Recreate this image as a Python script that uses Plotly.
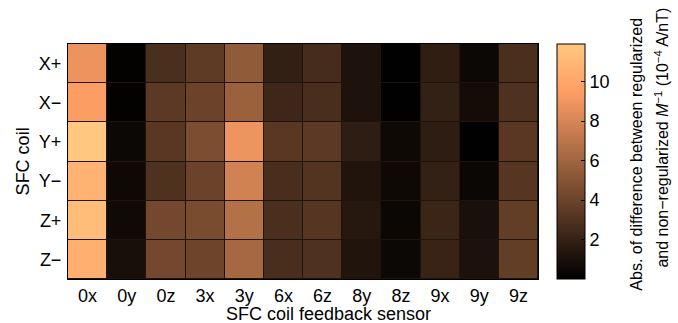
import plotly.graph_objects as go

# SFC coil feedback sensors (columns) and coils (rows)
sensors = ["0x", "0y", "0z", "3x", "3y", "6x", "6z", "8y", "8z", "9x", "9y", "9z"]
coils = ["X+", "X−", "Y+", "Y−", "Z+", "Z−"]

# |M^-1 regularized - M^-1 non-regularized|, units of 1e-4 A/nT
row_xp = [8.8, 0.10, 2.8, 3.5, 5.4, 1.9, 2.6, 1.1, 0.05, 1.8, 0.45, 2.8]
row_xm = [9.4, 0.10, 3.4, 4.0, 5.8, 2.3, 2.7, 1.1, 0.05, 1.95, 0.7, 2.9]
row_yp = [11.9, 0.45, 3.3, 4.6, 8.9, 3.3, 3.4, 1.7, 0.55, 1.7, 0.05, 3.3]
row_ym = [10.7, 0.55, 2.9, 4.0, 7.8, 2.7, 3.1, 1.2, 0.55, 1.95, 0.4, 3.2]
row_zp = [11.3, 0.6, 4.3, 4.5, 6.7, 2.8, 3.2, 1.4, 0.4, 2.2, 0.95, 3.7]
row_zm = [10.5, 0.9, 4.3, 4.1, 6.2, 2.7, 2.9, 1.2, 0.45, 2.1, 1.05, 3.7]
values = [row_xp, row_xm, row_yp, row_ym, row_zp, row_zm]

cbar_ticks = [2, 4, 6, 8, 10]

# Matlab-style "copper" colormap
def copper(t):
    r = min(1.0, 1.25 * t)
    g = 0.7812 * t
    b = 0.4975 * t
    return "rgb(%d,%d,%d)" % (round(r * 255), round(g * 255), round(b * 255))

steps = 20
copper_scale = [[i / steps, copper(i / steps)] for i in range(steps + 1)]

font = "Liberation Sans, Arial, Helvetica, sans-serif"
fs = 18

fig = go.Figure(
    go.Heatmap(
        z=values,
        x=sensors,
        y=coils,
        colorscale=copper_scale,
        zmin=0,
        zmax=11.9,
        xgap=1,
        ygap=1,
        colorbar=dict(
            x=1.0404,
            xanchor="left",
            xpad=0,
            y=0.5,
            yanchor="middle",
            ypad=0,
            len=1.0,
            lenmode="fraction",
            thickness=28,
            outlinecolor="black",
            outlinewidth=1,
            tickvals=cbar_ticks,
            ticks="inside",
            ticklen=4,
            tickcolor="black",
            tickfont=dict(size=fs, color="black", family=font),
        ),
    )
)

fig.update_layout(
    width=678,
    height=323,
    margin=dict(l=68, r=140, t=44, b=44),
    paper_bgcolor="white",
    plot_bgcolor="#1e140c",
    font=dict(family=font, size=fs, color="black"),
    xaxis=dict(
        automargin=False,
        showline=True, linecolor="black", linewidth=1, mirror=True,
        ticks="", showgrid=False, zeroline=False,
        ticklabelstandoff=0,
        tickfont=dict(size=fs),
    ),
    yaxis=dict(
        automargin=False,
        autorange="reversed",
        showline=True, linecolor="black", linewidth=1, mirror=True,
        ticks="", showgrid=False, zeroline=False,
        ticklabelstandoff=2,
        tickfont=dict(size=fs),
    ),
    annotations=[
        dict(
            text="SFC coil feedback sensor",
            xref="paper", yref="paper",
            x=0.555, y=-0.15, xanchor="center", yanchor="middle",
            showarrow=False, font=dict(size=fs),
        ),
        dict(
            text="SFC coil",
            xref="paper", yref="paper",
            x=-0.096, y=0.5, xanchor="center", yanchor="middle",
            textangle=-90, showarrow=False, font=dict(size=fs),
        ),
        dict(
            text="Abs. of difference between regularized",
            xref="paper", yref="paper",
            x=1.2100, y=0.532, xanchor="center", yanchor="middle",
            textangle=-90, showarrow=False, font=dict(size=16),
        ),
        dict(
            text="and non−regularized <i>M</i><sup>−1</sup> (10<sup>−4</sup> A/nT)",
            xref="paper", yref="paper",
            x=1.2630, y=0.60, xanchor="center", yanchor="middle",
            textangle=-90, showarrow=False, font=dict(size=16),
        ),
    ],
)

fig.write_html("out.html")
